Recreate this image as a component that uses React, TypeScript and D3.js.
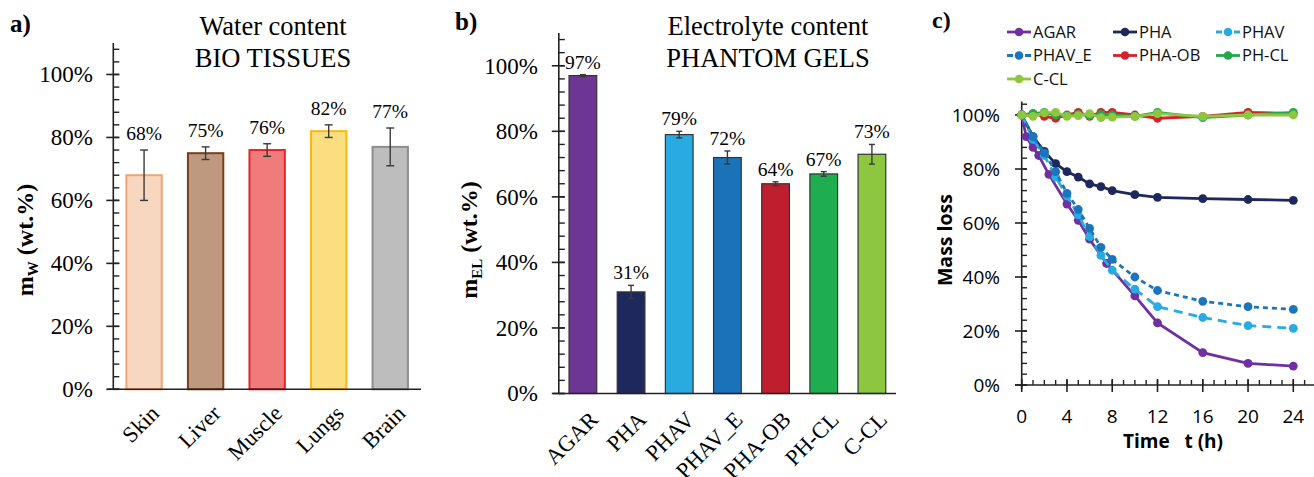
import React from 'react'
import { scaleLinear, scaleBand, line, range } from 'd3'

const SERIF = '"Liberation Serif", "Times New Roman", serif'
const SANS = '"Open Sans", "Liberation Sans", sans-serif'

// panel a
const tissueNames = ['Skin', 'Liver', 'Muscle', 'Lungs', 'Brain']
const tissueWater = [68, 75, 76, 82, 77]
const tissueErr = [8, 2, 2, 2, 6]
const tissueFill = ['#F8D7C1', '#BE987F', '#F07B7B', '#FADE80', '#BDBDBD']
const tissueStroke = ['#F2A46E', '#7A3E1D', '#E8232B', '#FBB814', '#8E8E8E']

// panel b
const gelNames = ['AGAR', 'PHA', 'PHAV', 'PHAV_E', 'PHA-OB', 'PH-CL', 'C-CL']
const gelElectrolyte = [97, 31, 79, 72, 64, 67, 73]
const gelErr = [0.3, 2, 1, 2, 0.6, 0.7, 3]
const gelColors = ['#6E3694', '#1F285C', '#29ABE2', '#1A72B8', '#BE1E2D', '#1EAE50', '#8DC63F']

// panel c
const hours = [0, 1, 2, 3, 4, 5, 6, 7, 8, 10, 12, 16, 20, 24]
const agarHours = [0, 0.4, 1, 1.5, 2.4, 4, 5, 6, 7.5, 10, 12, 16, 20, 24]
const agarLoss = [100, 92, 88, 85, 78, 67, 61, 54, 45, 33, 23, 12, 8, 7]
const phaLoss = [100, 92, 86.5, 82, 79, 77, 74.5, 73.5, 72, 70.5, 69.5, 69, 68.7, 68.4]
const phavLoss = [100, 91, 85, 77, 70, 63, 55, 48, 42.5, 35.5, 29, 25, 22, 21]
const phavELoss = [100, 92, 86, 79, 71, 65, 58, 51, 46.5, 40, 35, 31, 29, 28]
const phaObLoss = [100, 100.5, 99.5, 98.8, 100, 101, 99.5, 101, 101, 100, 98.8, 99.5, 101, 100.5]
const phClLoss = [100, 100.5, 101, 100, 99.8, 100.2, 99.8, 100.2, 100, 99.5, 101, 99, 100, 101]
const cClLoss = [100, 99.5, 100.8, 101, 99.5, 99.8, 100.5, 99, 99.2, 99.5, 100.5, 99.5, 100, 100]
const yTickPct = [0, 20, 40, 60, 80, 100]

const lossSeries = [
  { name: 'AGAR', t: agarHours, v: agarLoss, color: '#7030A0', dash: null },
  { name: 'PHA', t: hours, v: phaLoss, color: '#1F285C', dash: null },
  { name: 'PHAV', t: hours, v: phavLoss, color: '#29ABE2', dash: '9,6' },
  { name: 'PHAV_E', t: hours, v: phavELoss, color: '#1B75BC', dash: '5,4' },
  { name: 'PHA-OB', t: hours, v: phaObLoss, color: '#D2232A', dash: null },
  { name: 'PH-CL', t: hours, v: phClLoss, color: '#22A84A', dash: null },
  { name: 'C-CL', t: hours, v: cClLoss, color: '#8DC63F', dash: null },
]

function BarPanel({ names, values, errs, fills, strokes, x0, x1, yBottom, yTop, axisLeft, tag, title, sub, labelGap, capW, strokeW, tickX, tagX, tagY, titleX, ylabX, labelDy }) {
  const x = scaleBand().domain(names).range([x0, x1]).paddingInner(0.425).paddingOuter(0.2125)
  const y = scaleLinear().domain([0, 110]).range([yBottom, yTop])
  const minor = range(0, 109, 4)
  return (
    <g>
      <text x={tagX} y={tagY} fontFamily={SERIF} fontWeight="bold" fontSize={25}>{tag}</text>
      <text x={titleX} y={35} textAnchor="middle" fontFamily={SERIF} fontSize={26.5}>{title[0]}</text>
      <text x={titleX} y={67} textAnchor="middle" fontFamily={SERIF} fontSize={26.5}>{title[1]}</text>
      <text transform={`translate(${ylabX},240) rotate(-90)`} textAnchor="middle" fontFamily={SERIF} fontWeight="bold" fontSize={24}>
        <tspan>m</tspan><tspan fontSize={15} dy={5}>{sub}</tspan><tspan dy={-5}> (wt.%)</tspan>
      </text>
      {names.map((n, i) => {
        const bx = x(n)
        const top = y(values[i])
        const eTop = y(values[i] + errs[i])
        const eBot = y(values[i] - errs[i])
        const cx = bx + x.bandwidth() / 2
        return (
          <g key={n}>
            <rect x={bx} y={top} width={x.bandwidth()} height={yBottom - top} fill={fills[i]} stroke={strokes[i]} strokeWidth={strokeW} />
            <line x1={cx} x2={cx} y1={eTop} y2={eBot} stroke="#3a3a3a" strokeWidth={1.4} />
            <line x1={cx - capW} x2={cx + capW} y1={eTop} y2={eTop} stroke="#3a3a3a" strokeWidth={1.4} />
            <line x1={cx - capW} x2={cx + capW} y1={eBot} y2={eBot} stroke="#3a3a3a" strokeWidth={1.4} />
            <text x={cx} y={eTop - labelGap} textAnchor="middle" fontFamily={SERIF} fontSize={19.5}>{values[i]}%</text>
            <text transform={`translate(${cx + 5},${yBottom + labelDy}) rotate(-45)`} textAnchor="end" dy="0.72em" fontFamily={SERIF} fontSize={22.5}>{n}</text>
          </g>
        )
      })}
      <line x1={axisLeft} x2={axisLeft} y1={yTop} y2={yBottom} stroke="#222" strokeWidth={1.6} />
      <line x1={axisLeft - 6} x2={x1} y1={yBottom} y2={yBottom} stroke="#222" strokeWidth={1.6} />
      {minor.map(t => (
        <line key={t} x1={axisLeft} x2={axisLeft + 6} y1={y(t)} y2={y(t)} stroke="#222" strokeWidth={1.4} />
      ))}
      {yTickPct.map(t => (
        <g key={t}>
          <line x1={axisLeft - 7} x2={axisLeft + 6} y1={y(t)} y2={y(t)} stroke="#222" strokeWidth={1.6} />
          <text x={tickX} y={y(t)} dy="0.34em" textAnchor="end" fontFamily={SERIF} fontSize={23}>{t}%</text>
        </g>
      ))}
    </g>
  )
}

function LossPanel() {
  const x = scaleLinear().domain([0, 24]).range([1021.7, 1293.3])
  const y = scaleLinear().domain([0, 105]).range([385, 101.5])
  const legendCols = [1007, 1113, 1216]
  const legendRows = [32, 55.5, 79]
  return (
    <g fontFamily={SANS}>
      <text x={932} y={28} fontFamily={SERIF} fontWeight="bold" fontSize={24}>c)</text>
      {lossSeries.map((s, i) => {
        const lx = legendCols[i % 3]
        const ly = legendRows[Math.floor(i / 3)]
        return (
          <g key={s.name}>
            <line x1={lx} x2={lx + 24} y1={ly} y2={ly} stroke={s.color} strokeWidth={2.8} strokeDasharray={s.dash ? '6,3' : undefined} />
            <circle cx={lx + 12} cy={ly} r={4.3} fill={s.color} />
            <text x={lx + 26} y={ly} dy="0.36em" fontSize={16.5} fill="#111">{s.name}</text>
          </g>
        )
      })}
      {range(0, 105, 4).map(t => (
        <line key={'ym' + t} x1={1021.7} x2={1027} y1={y(t)} y2={y(t)} stroke="#222" strokeWidth={1.4} />
      ))}
      {yTickPct.map(t => (
        <g key={'y' + t}>
          <line x1={1015} x2={1027} y1={y(t)} y2={y(t)} stroke="#222" strokeWidth={1.6} />
          <text x={1000} y={y(t)} dy="0.36em" textAnchor="end" fontSize={19}>{t}%</text>
        </g>
      ))}
      {range(0, 26, 1).map(t => (
        <line key={'xm' + t} x1={x(t)} x2={x(t)} y1={380} y2={385} stroke="#222" strokeWidth={1.4} />
      ))}
      {range(0, 25, 4).map(t => (
        <g key={'x' + t}>
          <line x1={x(t)} x2={x(t)} y1={379} y2={392} stroke="#222" strokeWidth={1.6} />
          <text x={x(t)} y={423} textAnchor="middle" fontSize={19}>{t}</text>
        </g>
      ))}
      <line x1={1021.7} x2={1021.7} y1={y(105)} y2={389} stroke="#222" strokeWidth={1.6} />
      <line x1={1015} x2={1314} y1={385} y2={385} stroke="#222" strokeWidth={1.6} />
      <text x={1173} y={448} textAnchor="middle" fontWeight="bold" fontSize={19} style={{ whiteSpace: 'pre' }}>{'Time   t (h)'}</text>
      <text transform="translate(952,240) rotate(-90)" textAnchor="middle" fontWeight="bold" fontSize={19.5}>Mass loss</text>
      {lossSeries.map(s => {
        const pts = s.t.map((t, i) => [x(t), y(s.v[i])] as [number, number])
        return (
          <g key={s.name}>
            <path d={line()(pts) || ''} fill="none" stroke={s.color} strokeWidth={2.8} strokeDasharray={s.dash || undefined} />
            {pts.map((p, i) => <circle key={i} cx={p[0]} cy={p[1]} r={4.4} fill={s.color} />)}
          </g>
        )
      })}
    </g>
  )
}

export default function App() {
  return (
    <svg width={1314} height={477} style={{ position: 'absolute', left: 0, top: 0, background: '#fff' }}>
      <rect width={1314} height={477} fill="#fff" />
      <BarPanel names={tissueNames} values={tissueWater} errs={tissueErr} fills={tissueFill} strokes={tissueStroke}
        x0={113.3} x1={421} yBottom={389.3} yTop={43} axisLeft={113.3} tag="a)" title={['Water content', 'BIO TISSUES']} sub="W"
        labelGap={10} capW={4} strokeW={2} tickX={93} tagX={10} tagY={32} titleX={273} ylabX={33} labelDy={14} />
      <BarPanel names={gelNames} values={gelElectrolyte} errs={gelErr} fills={gelColors} strokes={gelColors.map(() => '#333')}
        x0={558.8} x1={896} yBottom={393.5} yTop={33} axisLeft={558.8} tag="b)" title={['Electrolyte content', 'PHANTOM GELS']} sub="EL"
        labelGap={6} capW={3} strokeW={1.2} tickX={538} tagX={455} tagY={30} titleX={768} ylabX={477} labelDy={16} />
      <LossPanel />
    </svg>
  )
}
